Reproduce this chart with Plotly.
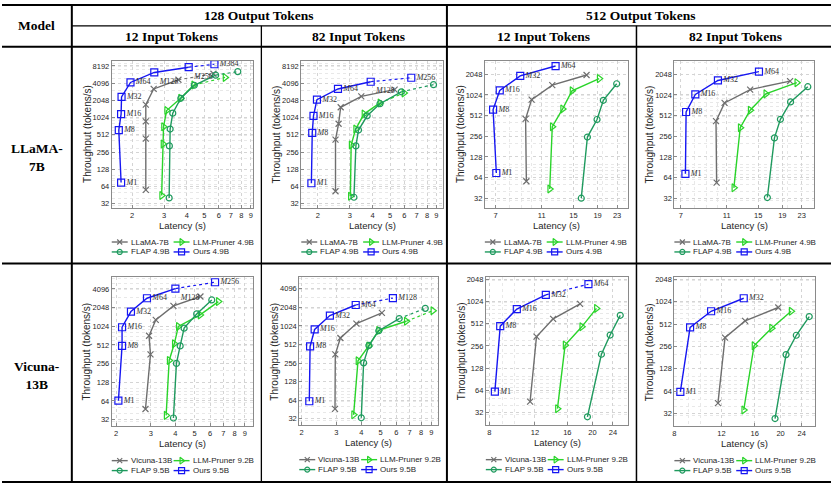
import plotly.graph_objects as go

W, H = 831, 486

# ---------------------------------------------------------------------------
# Data: latency (s) and throughput (tokens/s).
# Panels A-D: LLaMA-7B family, panels E-H: Vicuna-13B family.
# ---------------------------------------------------------------------------

# A: LLaMA, 128 output tokens, 12 input tokens
A_BASE_LAT = [2.38, 2.38, 2.38, 2.38, 2.63, 3.60, 5.61]
A_BASE_THR = [56, 440, 880, 1725, 3240, 4690, 5960]
A_PRUNER_LAT = [2.91, 2.96, 2.98, 3.10, 3.70, 4.37, 6.50]
A_PRUNER_THR = [44.6, 355, 710, 1360, 2225, 3790, 5150]
A_FLAP_LAT = [3.20, 3.21, 3.24, 3.35, 3.71, 4.40, 5.77, 7.64]
A_FLAP_THR = [40.5, 328, 645, 1225, 2225, 3760, 5640, 6510]
A_OURS_LAT = [1.74, 1.69, 1.74, 1.75, 1.96, 2.65, 4.10, 5.68]
A_OURS_THR = [75, 620, 1176, 2350, 4210, 6290, 7770, 8750]
A_BATCH = [1, 8, 16, 32, 64, 128, 256, 384]

# B: LLaMA, 128 output tokens, 82 input tokens
B_BASE_LAT = [2.50, 2.50, 2.60, 2.67, 3.47, 5.30]
B_BASE_THR = [53, 422, 800, 1550, 2400, 3150]
B_PRUNER_LAT = [3.02, 3.05, 3.23, 3.59, 4.40, 5.97]
B_PRUNER_THR = [43.4, 340, 645, 1180, 1845, 2760]
B_FLAP_LAT = [3.16, 3.24, 3.35, 3.74, 4.40, 5.77, 8.69]
B_FLAP_THR = [41.6, 328, 620, 1100, 1790, 2890, 3850]
B_OURS_LAT = [1.84, 1.86, 1.89, 1.975, 2.58, 3.91, 6.55]
B_OURS_THR = [73, 556, 1100, 2110, 3240, 4330, 5080]
B_BATCH = [1, 8, 16, 32, 64, 128, 256]

# C: LLaMA, 512 output tokens, 12 input tokens
C_BASE_LAT = [9.47, 9.40, 9.97, 12.2, 17.06]
C_BASE_THR = [56.5, 458, 874, 1420, 2000]
C_PRUNER_LAT = [11.9, 12.2, 13.5, 14.8, 19.3]
C_PRUNER_THR = [43.6, 352, 640, 1176, 1770]
C_FLAP_LAT = [16.2, 17.2, 18.9, 20.1, 22.9]
C_FLAP_THR = [32, 249, 449, 855, 1490]
C_OURS_LAT = [7.06, 6.84, 7.30, 8.92, 12.6]
C_OURS_THR = [74.5, 626, 1190, 1940, 2700]
C_BATCH = [1, 8, 16, 32, 64]

# D: LLaMA, 512 output tokens, 82 input tokens
D_BASE_LAT = [9.96, 9.90, 10.77, 13.85, 20.5]
D_BASE_THR = [54, 424, 782, 1225, 1630]
D_PRUNER_LAT = [11.8, 12.56, 13.85, 16.15, 21.9]
D_PRUNER_THR = [45.3, 340, 612, 1060, 1545]
D_FLAP_LAT = [16.4, 17.58, 18.64, 20.6, 24.4]
D_FLAP_THR = [32.7, 242, 452, 810, 1350]
D_OURS_LAT = [7.33, 7.38, 8.08, 10.09, 15.1]
D_OURS_THR = [72.5, 577, 1040, 1664, 2235]
D_BATCH = [1, 8, 16, 32, 64]

# E: Vicuna, 128 output tokens, 12 input tokens
E_BASE_LAT = [2.82, 2.99, 2.94, 3.18, 3.91, 5.36]
E_BASE_THR = [47.5, 360, 720, 1296, 2180, 3090]
E_PRUNER_LAT = [3.59, 3.72, 3.95, 4.14, 5.34, 6.61]
E_PRUNER_THR = [37.5, 288, 534, 1016, 1563, 2560]
E_FLAP_LAT = [3.91, 4.05, 4.23, 4.43, 5.13, 6.12]
E_FLAP_THR = [34, 258, 494, 955, 1620, 2720]
E_OURS_LAT = [2.055, 2.145, 2.145, 2.38, 2.87, 4.00, 6.36]
E_OURS_THR = [64.7, 494, 988, 1770, 2900, 4150, 5250]
E_BATCH = [1, 8, 16, 32, 64, 128, 256]

# F: Vicuna, 128 output tokens, 82 input tokens
F_BASE_LAT = [2.95, 2.96, 3.14, 3.78, 5.08]
F_BASE_THR = [46.2, 355, 653, 1120, 1665]
F_PRUNER_LAT = [3.66, 3.85, 4.36, 4.89, 6.74, 9.17]
F_PRUNER_THR = [37, 278, 485, 867, 1220, 1810]
F_FLAP_LAT = [4.00, 4.11, 4.37, 4.90, 6.21, 8.40]
F_FLAP_THR = [33.1, 258, 494, 857, 1350, 1975]
F_OURS_LAT = [2.19, 2.21, 2.33, 2.78, 3.75, 5.77]
F_OURS_THR = [61.4, 477, 898, 1510, 2240, 2900]
F_BATCH = [1, 8, 16, 32, 64, 128]

# G: Vicuna, 512 output tokens, 12 input tokens
G_BASE_LAT = [11.5, 12.17, 14.11, 17.92]
G_BASE_THR = [45.3, 342, 596, 950]
G_PRUNER_LAT = [14.66, 15.69, 18.19, 20.72]
G_PRUNER_THR = [36.3, 263, 465, 826]
G_FLAP_LAT = [19.13, 21.66, 23.4, 25.6]
G_FLAP_THR = [28.2, 198, 360, 666]
G_OURS_LAT = [8.41, 8.82, 10.22, 13.22, 19.3]
G_OURS_THR = [61.8, 475, 810, 1260, 1755]
G_BATCH = [1, 8, 16, 32, 64]

# H: Vicuna, 512 output tokens, 82 input tokens
H_BASE_LAT = [11.65, 12.38, 14.72, 19.6]
H_BASE_THR = [44.3, 336, 565, 855]
H_PRUNER_LAT = [14.55, 15.9, 18.5, 21.9]
H_PRUNER_THR = [35.8, 261, 451, 761]
H_FLAP_LAT = [19.06, 20.96, 22.9, 25.6]
H_FLAP_THR = [27.5, 199, 362, 646]
H_OURS_LAT = [8.42, 9.16, 10.98, 14.55]
H_OURS_THR = [62.7, 461, 761, 1138]
H_BATCH = [1, 8, 16, 32]

# tick labels
X_TICKS_128 = [2, 3, 4, 5, 6, 7, 8, 9]
X_TICKS_512_LLAMA = [7, 11, 15, 19, 23]
X_TICKS_512_VICUNA = [8, 12, 16, 20, 24]
Y_TICKS_8192 = [32, 64, 128, 256, 512, 1024, 2048, 4096, 8192]
Y_TICKS_4096 = [32, 64, 128, 256, 512, 1024, 2048, 4096]
Y_TICKS_2048 = [32, 64, 128, 256, 512, 1024, 2048]

LEGEND_LLAMA = ["LLaMA-7B", "LLM-Pruner 4.9B", "FLAP 4.9B", "Ours 4.9B"]
LEGEND_VICUNA = ["Vicuna-13B", "LLM-Pruner 9.2B", "FLAP 9.5B", "Ours 9.5B"]

# ---------------------------------------------------------------------------
KEYS = ["base", "pruner", "flap", "ours"]
STYLES = {
    "base": dict(color="#6e6e6e", symbol="x-thin", size=6),
    "pruner": dict(color="#2ad42a", symbol="triangle-right-open", size=7),
    "flap": dict(color="#1f9a5e", symbol="circle-open", size=6),
    "ours": dict(color="#1616f2", symbol="square-open", size=7),
}

panels = [
    dict(series=[(A_BASE_LAT, A_BASE_THR), (A_PRUNER_LAT, A_PRUNER_THR), (A_FLAP_LAT, A_FLAP_THR), (A_OURS_LAT, A_OURS_THR)],
         batch=A_BATCH, xt=X_TICKS_128, yt=Y_TICKS_8192, legend=LEGEND_LLAMA),
    dict(series=[(B_BASE_LAT, B_BASE_THR), (B_PRUNER_LAT, B_PRUNER_THR), (B_FLAP_LAT, B_FLAP_THR), (B_OURS_LAT, B_OURS_THR)],
         batch=B_BATCH, xt=X_TICKS_128, yt=Y_TICKS_8192, legend=LEGEND_LLAMA),
    dict(series=[(C_BASE_LAT, C_BASE_THR), (C_PRUNER_LAT, C_PRUNER_THR), (C_FLAP_LAT, C_FLAP_THR), (C_OURS_LAT, C_OURS_THR)],
         batch=C_BATCH, xt=X_TICKS_512_LLAMA, yt=Y_TICKS_2048, legend=LEGEND_LLAMA),
    dict(series=[(D_BASE_LAT, D_BASE_THR), (D_PRUNER_LAT, D_PRUNER_THR), (D_FLAP_LAT, D_FLAP_THR), (D_OURS_LAT, D_OURS_THR)],
         batch=D_BATCH, xt=X_TICKS_512_LLAMA, yt=Y_TICKS_2048, legend=LEGEND_LLAMA),
    dict(series=[(E_BASE_LAT, E_BASE_THR), (E_PRUNER_LAT, E_PRUNER_THR), (E_FLAP_LAT, E_FLAP_THR), (E_OURS_LAT, E_OURS_THR)],
         batch=E_BATCH, xt=X_TICKS_128, yt=Y_TICKS_4096, legend=LEGEND_VICUNA),
    dict(series=[(F_BASE_LAT, F_BASE_THR), (F_PRUNER_LAT, F_PRUNER_THR), (F_FLAP_LAT, F_FLAP_THR), (F_OURS_LAT, F_OURS_THR)],
         batch=F_BATCH, xt=X_TICKS_128, yt=Y_TICKS_4096, legend=LEGEND_VICUNA),
    dict(series=[(G_BASE_LAT, G_BASE_THR), (G_PRUNER_LAT, G_PRUNER_THR), (G_FLAP_LAT, G_FLAP_THR), (G_OURS_LAT, G_OURS_THR)],
         batch=G_BATCH, xt=X_TICKS_512_VICUNA, yt=Y_TICKS_2048, legend=LEGEND_VICUNA),
    dict(series=[(H_BASE_LAT, H_BASE_THR), (H_PRUNER_LAT, H_PRUNER_THR), (H_FLAP_LAT, H_FLAP_THR), (H_OURS_LAT, H_OURS_THR)],
         batch=H_BATCH, xt=X_TICKS_512_VICUNA, yt=Y_TICKS_2048, legend=LEGEND_VICUNA),
]

# plot-area boxes in pixels (left, right, top, bottom) and log10 axis ranges
BOXES = [(110, 252, 59, 207), (300, 442, 59, 207), (484, 628, 59, 207), (674, 814, 59, 207),
         (110, 252, 277, 427), (298, 437, 277, 426), (485, 628, 277, 426), (674, 815, 277, 427)]
X_RANGES = [[0.189, 0.969], [0.209, 0.991], [0.80, 1.41], [0.818, 1.414],
            [0.279, 0.998], [0.29, 0.988], [0.890, 1.44], [0.903, 1.43]]
Y_RANGES = [[1.436, 4.005], [1.436, 4.005], [1.366, 3.510], [1.366, 3.510],
            [1.397, 3.800], [1.397, 3.800], [1.334, 3.338], [1.334, 3.338]]

# last segment drawn dotted
DASH_LAST = {0: ["base", "pruner", "flap", "ours"], 1: ["pruner", "flap", "ours"],
             4: ["ours"], 5: ["pruner", "flap", "ours"], 6: ["ours"]}

SANS = "Liberation Sans"
SERIF = "Liberation Serif"


def px_x(px):
    return px / W


def px_y(py):
    return 1 - py / H


fig = go.Figure()
annotations = []
shapes = []


def add_text(x, y, text, size, family=SANS, color="#262626", xanchor="center", angle=0):
    annotations.append(dict(x=px_x(x), y=px_y(y), xref="paper", yref="paper", text=text,
                            showarrow=False, xanchor=xanchor, yanchor="middle", textangle=angle,
                            font=dict(family=family, size=size, color=color)))


for i, panel in enumerate(panels):
    sfx = "" if i == 0 else str(i + 1)
    xa, ya = "x" + sfx, "y" + sfx
    for key, (lat, thr) in zip(KEYS, panel["series"]):
        st = STYLES[key]
        dashed = key in DASH_LAST.get(i, [])
        n_solid = len(lat) - 1 if dashed else len(lat)
        fig.add_trace(go.Scatter(x=lat[:n_solid], y=thr[:n_solid], mode="lines",
                                 line=dict(color=st["color"], width=1.4),
                                 xaxis=xa, yaxis=ya, showlegend=False, hoverinfo="skip"))
        if dashed:
            fig.add_trace(go.Scatter(x=lat[-2:], y=thr[-2:], mode="lines",
                                     line=dict(color=st["color"], width=1.2, dash="dot"),
                                     xaxis=xa, yaxis=ya, showlegend=False, hoverinfo="skip"))
        text, pos = None, None
        if key == "ours":
            text = ["<i>M</i>%d" % b for b in panel["batch"]]
            nb = len(text)
            pos = ["middle right" if (j < 5 or j == nb - 1) else "bottom right" for j in range(nb)]
        fig.add_trace(go.Scatter(x=lat, y=thr, mode="markers+text" if text else "markers",
                                 marker=dict(symbol=st["symbol"], size=st["size"], color=st["color"],
                                             line=dict(color=st["color"], width=1.2)),
                                 text=text, textposition=pos,
                                 textfont=dict(family=SERIF, size=8, color="#303030"),
                                 cliponaxis=False,
                                 xaxis=xa, yaxis=ya, showlegend=False))

    x0, x1, y0, y1 = BOXES[i]
    common = dict(type="log", showline=True, mirror=True, linecolor="#8a8a8a", linewidth=1,
                  ticks="inside", ticklen=3, tickcolor="#8a8a8a",
                  showgrid=True, gridcolor="#d4d4d4", griddash="dot", gridwidth=1,
                  minor=dict(showgrid=True, gridcolor="#e8e8e8", griddash="dot", dtick="D1"),
                  zeroline=False, fixedrange=True,
                  tickfont=dict(family=SANS, size=7.5, color="#262626"))
    fig.update_layout({
        "xaxis" + sfx: dict(domain=[px_x(x0), px_x(x1)], anchor=ya, range=X_RANGES[i],
                            tickvals=panel["xt"], ticktext=[str(v) for v in panel["xt"]], **common),
        "yaxis" + sfx: dict(domain=[px_y(y1), px_y(y0)], anchor=xa, range=Y_RANGES[i],
                            tickvals=panel["yt"], ticktext=[str(v) for v in panel["yt"]], **common),
    })

    # axis titles
    add_text((x0 + x1) / 2, y1 + 17.5, "Latency (s)", 9.5)
    add_text(x0 - 25, (y0 + y1) / 2, "Throughput (tokens/s)", 10, angle=-90)

# ---- legends (drawn on an invisible full-page axis in pixel units) ----
legend_lines = {k: ([], []) for k in KEYS}
legend_marks = {k: ([], []) for k in KEYS}
for i, panel in enumerate(panels):
    x0, x1, y0, y1 = BOXES[i]
    slots = [(x0, y1 + 34.5), (x0 + 62, y1 + 34.5), (x0, y1 + 44.5), (x0 + 62, y1 + 44.5)]
    for key, label, (gx, gy) in zip(KEYS, panel["legend"], slots):
        lx, ly = legend_lines[key]
        lx += [gx, gx + 16, None]
        ly += [gy, gy, None]
        mx, my = legend_marks[key]
        mx.append(gx + 8)
        my.append(gy)
        add_text(gx + 17, gy, label, 8, xanchor="left")
for key in KEYS:
    st = STYLES[key]
    fig.add_trace(go.Scatter(x=legend_lines[key][0], y=legend_lines[key][1], mode="lines",
                             line=dict(color=st["color"], width=1.4), xaxis="x9", yaxis="y9",
                             showlegend=False, hoverinfo="skip", cliponaxis=False))
    fig.add_trace(go.Scatter(x=legend_marks[key][0], y=legend_marks[key][1], mode="markers",
                             marker=dict(symbol=st["symbol"], size=st["size"] - 1, color=st["color"],
                                         line=dict(color=st["color"], width=1.2)),
                             xaxis="x9", yaxis="y9", showlegend=False, hoverinfo="skip",
                             cliponaxis=False))


# ---- table frame ----
def hline(y, xa, xb, w):
    shapes.append(dict(type="line", xref="paper", yref="paper", x0=px_x(xa), x1=px_x(xb),
                       y0=px_y(y), y1=px_y(y), line=dict(color="black", width=w)))


def vline(x, ya, yb, w):
    shapes.append(dict(type="line", xref="paper", yref="paper", x0=px_x(x), x1=px_x(x),
                       y0=px_y(ya), y1=px_y(yb), line=dict(color="black", width=w)))


hline(3, 0, W, 2)
hline(24, 70, W, 1.3)
hline(45, 0, W, 2)
hline(263, 0, W, 2)
hline(483, 0, W, 2)
vline(70, 3, 483, 2)
vline(446, 3, 483, 2)
vline(260, 24, 483, 1.3)
vline(636, 24, 483, 1.5)

# ---- header and row labels ----
for x, y, t in [(35, 24, "Model"), (258, 13.5, "128 Output Tokens"), (641, 13.5, "512 Output Tokens"),
                (170, 35, "12 Input Tokens"), (357, 35, "82 Input Tokens"),
                (543, 35, "12 Input Tokens"), (735, 35, "82 Input Tokens"),
                (35, 156, "LLaMA-<br>7B"), (35, 376, "Vicuna-<br>13B")]:
    add_text(x, y, "<b>%s</b>" % t, 13.5, family=SERIF, color="black")

fig.update_layout(
    width=W, height=H,
    margin=dict(l=0, r=0, t=0, b=0),
    paper_bgcolor="white",
    plot_bgcolor="rgba(0,0,0,0)",
    showlegend=False,
    xaxis9=dict(domain=[0, 1], range=[0, W], visible=False, fixedrange=True),
    yaxis9=dict(domain=[0, 1], range=[H, 0], visible=False, fixedrange=True, anchor="x9"),
    annotations=annotations,
    shapes=shapes,
)

fig.write_html("out.html", config={"displayModeBar": False},
               post_script="document.body.style.margin='0';")
